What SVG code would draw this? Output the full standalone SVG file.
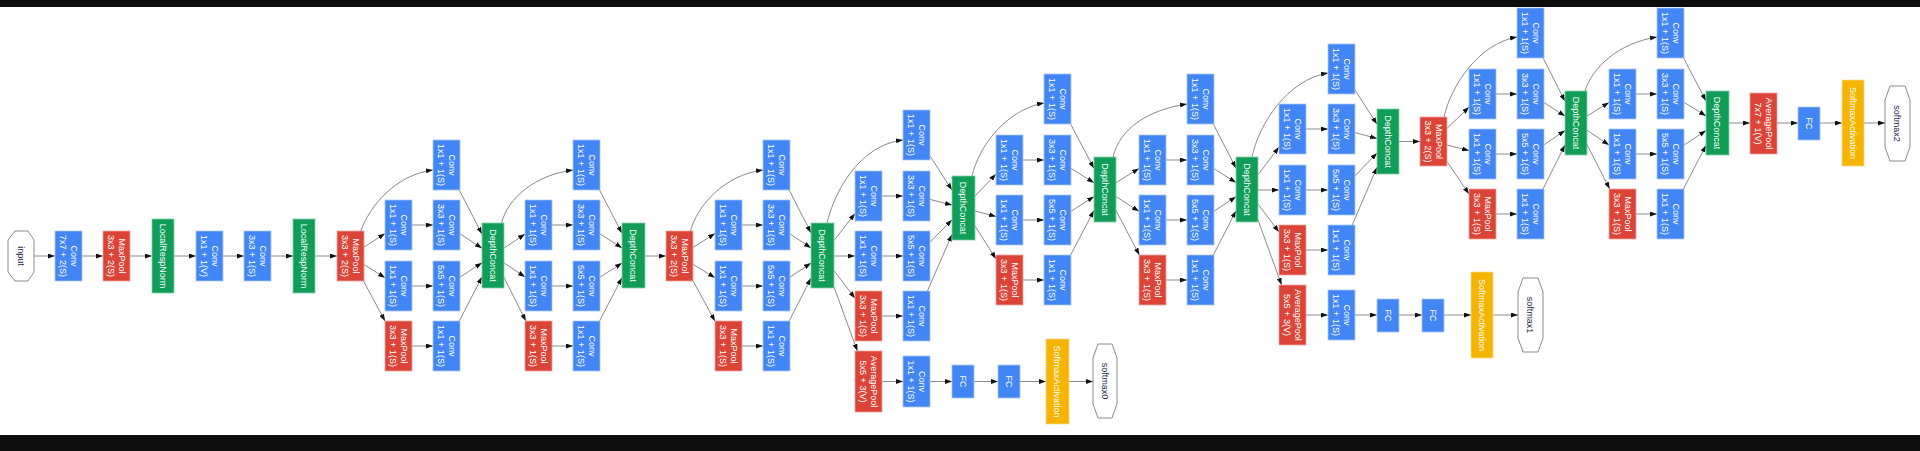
<svg xmlns="http://www.w3.org/2000/svg" width="1920" height="451" viewBox="0 0 1920 451">
<style>
.conv{fill:#4285f4;stroke:#a9c6f8;stroke-width:0.8}
.pool{fill:#db4437;stroke:#efa59e;stroke-width:0.8}
.cat{fill:#0f9d58;stroke:#86cfa9;stroke-width:0.8}
.sm{fill:#f4b400;stroke:#f9d98a;stroke-width:0.8}
.oct{fill:#fff;stroke:#8a8a8a;stroke-width:1}
text{font-family:"Liberation Sans",Arial,sans-serif;font-size:9px;text-anchor:middle}
.t{fill:#fff}
.ot{fill:#22284a}
.e{fill:none;stroke:#8a8a8a;stroke-width:1;marker-end:url(#a)}
</style>
<defs>
<marker id="a" markerUnits="userSpaceOnUse" markerWidth="7" markerHeight="5" refX="7" refY="2.5" orient="auto"><path d="M0,0 L7,2.5 L0,5 z" fill="#111"/></marker>
</defs>
<rect x="0" y="0" width="1920" height="451" fill="#fff"/>
<rect x="0" y="0" width="1920" height="7" fill="#0d0d0d"/>
<rect x="0" y="435" width="1920" height="16" fill="#0d0d0d"/>
<g id="connectors">
<path class="e" d="M34,256 L55,256"/>
<path class="e" d="M82,256 L103,256"/>
<path class="e" d="M130,256 L152,256"/>
<path class="e" d="M174,256 L196,256"/>
<path class="e" d="M223,256 L244,256"/>
<path class="e" d="M271,256 L293,256"/>
<path class="e" d="M315,256 L337,256"/>
<!-- 3a -->
<path class="e" d="M360.7,231 C370,206 395,175 433,170"/>
<path class="e" d="M363.5,247.4 L385,233.6"/>
<path class="e" d="M363.5,264.3 L385,277.7"/>
<path class="e" d="M363.5,281 L385,321"/>
<path class="e" d="M412,225 L433,225"/>
<path class="e" d="M412,286 L433,286"/>
<path class="e" d="M412,346 L433,346"/>
<path class="e" d="M459.3,190 L482,234.1"/>
<path class="e" d="M460,233.8 L482,248.3"/>
<path class="e" d="M460,277.2 L482,262.7"/>
<path class="e" d="M459.3,321 L482,276.9"/>
<!-- 3b -->
<path class="e" d="M501.5,223 C508,198 535,175 573,170"/>
<path class="e" d="M504,248.1 L525,234.1"/>
<path class="e" d="M504,262.9 L525,276.9"/>
<path class="e" d="M504,277.4 L525.9,321"/>
<path class="e" d="M552,225 L573,225"/>
<path class="e" d="M552,286 L573,286"/>
<path class="e" d="M552,346 L573,346"/>
<path class="e" d="M599.5,190 L622,233.3"/>
<path class="e" d="M600,233.8 L622,248"/>
<path class="e" d="M600,277.2 L622,263"/>
<path class="e" d="M599.5,321 L622,277.7"/>
<path class="e" d="M645,256 L666,256"/>
<!-- 4a -->
<path class="e" d="M690.5,231 C697,206 724,175 763,170"/>
<path class="e" d="M693,247.5 L715,233.5"/>
<path class="e" d="M693,264.3 L715,277.7"/>
<path class="e" d="M693,280.8 L715,321.2"/>
<path class="e" d="M742,225 L763,225"/>
<path class="e" d="M742,286 L763,286"/>
<path class="e" d="M742,346 L763,346"/>
<path class="e" d="M789.2,190 L811,232.9"/>
<path class="e" d="M790,233.9 L811,247.9"/>
<path class="e" d="M790,277.1 L811,263.1"/>
<path class="e" d="M789.2,321 L811,278.1"/>
<!-- 4b -->
<path class="e" d="M827,223 C835,190 860,145 903,140"/>
<path class="e" d="M834,240.6 L855,213.4"/>
<path class="e" d="M834,256 L855,256"/>
<path class="e" d="M834,270.6 L855,298.3"/>
<path class="e" d="M834,287 L857.4,351"/>
<path class="e" d="M882,196 L903,196"/>
<path class="e" d="M882,256 L903,256"/>
<path class="e" d="M882,316 L903,316"/>
<path class="e" d="M930,156 L952,190.1"/>
<path class="e" d="M930,199.4 L952,205.1"/>
<path class="e" d="M930,242.2 L952,219.8"/>
<path class="e" d="M927.4,291 L952,234.5"/>
<!-- aux1 -->
<path class="e" d="M882,381.5 L903,381.5"/>
<path class="e" d="M930,381.5 L952,381.5"/>
<path class="e" d="M974,381.5 L998,381.5"/>
<path class="e" d="M1020,381.5 L1046,381.5"/>
<path class="e" d="M1069,381.5 L1093,381.5"/>
<!-- 4c -->
<path class="e" d="M972,176 C979,146 1006,110 1044,103"/>
<path class="e" d="M975,196 L996,174.1"/>
<path class="e" d="M975,211 L996,216.5"/>
<path class="e" d="M975,226 L996,258.9"/>
<path class="e" d="M1023,160 L1044,160"/>
<path class="e" d="M1023,220 L1044,220"/>
<path class="e" d="M1023,280 L1044,280"/>
<path class="e" d="M1070.6,124 L1094,168.5"/>
<path class="e" d="M1071,168.4 L1094,182.7"/>
<path class="e" d="M1071,211.3 L1094,196.6"/>
<path class="e" d="M1070.6,255 L1094,210.5"/>
<!-- 4d -->
<path class="e" d="M1113,157 C1120,128 1148,110 1187,104"/>
<path class="e" d="M1116,182.7 L1139,168.4"/>
<path class="e" d="M1116,196.6 L1139,211.3"/>
<path class="e" d="M1116,210.5 L1139.4,255"/>
<path class="e" d="M1166,160 L1187,160"/>
<path class="e" d="M1166,220 L1187,220"/>
<path class="e" d="M1166,280 L1187,280"/>
<path class="e" d="M1213.3,124 L1236,168.1"/>
<path class="e" d="M1214,168.6 L1236,182.5"/>
<path class="e" d="M1214,211.2 L1236,196.7"/>
<path class="e" d="M1213.3,255 L1236,210.9"/>
<!-- 4e -->
<path class="e" d="M1252,157 C1259,124 1287,80 1328,73"/>
<path class="e" d="M1258,174.9 L1279,147"/>
<path class="e" d="M1258,190 L1279,190"/>
<path class="e" d="M1258,204.1 L1279,232"/>
<path class="e" d="M1258,219.9 L1281.6,285"/>
<path class="e" d="M1306,129 L1328,129"/>
<path class="e" d="M1306,190 L1328,190"/>
<path class="e" d="M1306,250 L1328,250"/>
<path class="e" d="M1355,90 L1377,124.3"/>
<path class="e" d="M1355,132.6 L1377,138.5"/>
<path class="e" d="M1355,175.9 L1377,153"/>
<path class="e" d="M1352.2,225 L1377,167.2"/>
<!-- aux2 -->
<path class="e" d="M1306,315 L1328,315"/>
<path class="e" d="M1355,315 L1377,315"/>
<path class="e" d="M1399,315 L1422,315"/>
<path class="e" d="M1444,315 L1471,315"/>
<path class="e" d="M1493,315 L1518,315"/>
<path class="e" d="M1399,141.5 L1420,141.5"/>
<!-- 5a -->
<path class="e" d="M1444,117 C1451,86 1478,44 1517,37"/>
<path class="e" d="M1447,128.4 L1469,107.1"/>
<path class="e" d="M1447,144.9 L1469,150.6"/>
<path class="e" d="M1447,161.5 L1469,194"/>
<path class="e" d="M1496,94 L1517,94"/>
<path class="e" d="M1496,154 L1517,154"/>
<path class="e" d="M1496,214 L1517,214"/>
<path class="e" d="M1543.1,58 L1565,101.2"/>
<path class="e" d="M1544,102.6 L1565,116"/>
<path class="e" d="M1544,144.8 L1565,130.5"/>
<path class="e" d="M1543,189 L1565,145"/>
<!-- 5b -->
<path class="e" d="M1585,91 C1592,68 1618,43 1657,37"/>
<path class="e" d="M1587,116.1 L1609,102.4"/>
<path class="e" d="M1587,130.3 L1609,145"/>
<path class="e" d="M1587,144.5 L1609.7,189"/>
<path class="e" d="M1636,94 L1657,94"/>
<path class="e" d="M1636,154 L1657,154"/>
<path class="e" d="M1636,214 L1657,214"/>
<path class="e" d="M1683.6,58 L1706,101"/>
<path class="e" d="M1684,102.3 L1706,115.9"/>
<path class="e" d="M1684,145.1 L1706,130.6"/>
<path class="e" d="M1683.4,189 L1706,145.3"/>
<path class="e" d="M1729,123 L1750,123"/>
<path class="e" d="M1777,123 L1798,123"/>
<path class="e" d="M1820,123 L1842,123"/>
<path class="e" d="M1864,123 L1885,123"/>
</g>
<g id="input"><polygon class="oct" points="15,231 28,231 34,240 34,272 28,281 15,281 8,272 8,240"/><text class="ot" transform="translate(21,256) rotate(90)" y="3.2">input</text></g>
<g id="conv1"><rect class="conv" x="55" y="231" width="27" height="50"/><text class="t" transform="translate(68.5,256) rotate(90)"><tspan x="0" y="-2.5">Conv</tspan><tspan x="0" y="9">7x7 + 2(S)</tspan></text></g>
<g id="pool1"><rect class="pool" x="103" y="231" width="27" height="50"/><text class="t" transform="translate(116.5,256) rotate(90)"><tspan x="0" y="-2.5">MaxPool</tspan><tspan x="0" y="9">3x3 + 2(S)</tspan></text></g>
<g id="lrn1"><rect class="cat" x="152" y="219" width="22" height="74"/><text class="t" transform="translate(163,256) rotate(90)" y="3.2">LocalRespNorm</text></g>
<g id="conv2"><rect class="conv" x="196" y="231" width="27" height="50"/><text class="t" transform="translate(209.5,256) rotate(90)"><tspan x="0" y="-2.5">Conv</tspan><tspan x="0" y="9">1x1 + 1(V)</tspan></text></g>
<g id="conv3"><rect class="conv" x="244" y="231" width="27" height="50"/><text class="t" transform="translate(257.5,256) rotate(90)"><tspan x="0" y="-2.5">Conv</tspan><tspan x="0" y="9">3x3 + 1(S)</tspan></text></g>
<g id="lrn2"><rect class="cat" x="293" y="219" width="22" height="74"/><text class="t" transform="translate(304,256) rotate(90)" y="3.2">LocalRespNorm</text></g>
<g id="pool2"><rect class="pool" x="337" y="231" width="27" height="50"/><text class="t" transform="translate(350.5,256) rotate(90)"><tspan x="0" y="-2.5">MaxPool</tspan><tspan x="0" y="9">3x3 + 2(S)</tspan></text></g>

<g id="i3a_1x1"><rect class="conv" x="433" y="140" width="27" height="50"/><text class="t" transform="translate(446.5,165) rotate(90)"><tspan x="0" y="-2.5">Conv</tspan><tspan x="0" y="9">1x1 + 1(S)</tspan></text></g>
<g id="i3a_3r"><rect class="conv" x="385" y="200" width="27" height="50"/><text class="t" transform="translate(398.5,225) rotate(90)"><tspan x="0" y="-2.5">Conv</tspan><tspan x="0" y="9">1x1 + 1(S)</tspan></text></g>
<g id="i3a_3"><rect class="conv" x="433" y="200" width="27" height="50"/><text class="t" transform="translate(446.5,225) rotate(90)"><tspan x="0" y="-2.5">Conv</tspan><tspan x="0" y="9">3x3 + 1(S)</tspan></text></g>
<g id="i3a_5r"><rect class="conv" x="385" y="261" width="27" height="50"/><text class="t" transform="translate(398.5,286) rotate(90)"><tspan x="0" y="-2.5">Conv</tspan><tspan x="0" y="9">1x1 + 1(S)</tspan></text></g>
<g id="i3a_5"><rect class="conv" x="433" y="261" width="27" height="50"/><text class="t" transform="translate(446.5,286) rotate(90)"><tspan x="0" y="-2.5">Conv</tspan><tspan x="0" y="9">5x5 + 1(S)</tspan></text></g>
<g id="i3a_pool"><rect class="pool" x="385" y="321" width="27" height="50"/><text class="t" transform="translate(398.5,346) rotate(90)"><tspan x="0" y="-2.5">MaxPool</tspan><tspan x="0" y="9">3x3 + 1(S)</tspan></text></g>
<g id="i3a_pp"><rect class="conv" x="433" y="321" width="27" height="50"/><text class="t" transform="translate(446.5,346) rotate(90)"><tspan x="0" y="-2.5">Conv</tspan><tspan x="0" y="9">1x1 + 1(S)</tspan></text></g>
<g id="i3a_cat"><rect class="cat" x="482" y="223" width="22" height="65"/><text class="t" transform="translate(493,255.5) rotate(90)" y="3.2">DepthConcat</text></g>

<g id="i3b_1x1"><rect class="conv" x="573" y="140" width="27" height="50"/><text class="t" transform="translate(586.5,165) rotate(90)"><tspan x="0" y="-2.5">Conv</tspan><tspan x="0" y="9">1x1 + 1(S)</tspan></text></g>
<g id="i3b_3r"><rect class="conv" x="525" y="200" width="27" height="50"/><text class="t" transform="translate(538.5,225) rotate(90)"><tspan x="0" y="-2.5">Conv</tspan><tspan x="0" y="9">1x1 + 1(S)</tspan></text></g>
<g id="i3b_3"><rect class="conv" x="573" y="200" width="27" height="50"/><text class="t" transform="translate(586.5,225) rotate(90)"><tspan x="0" y="-2.5">Conv</tspan><tspan x="0" y="9">3x3 + 1(S)</tspan></text></g>
<g id="i3b_5r"><rect class="conv" x="525" y="261" width="27" height="50"/><text class="t" transform="translate(538.5,286) rotate(90)"><tspan x="0" y="-2.5">Conv</tspan><tspan x="0" y="9">1x1 + 1(S)</tspan></text></g>
<g id="i3b_5"><rect class="conv" x="573" y="261" width="27" height="50"/><text class="t" transform="translate(586.5,286) rotate(90)"><tspan x="0" y="-2.5">Conv</tspan><tspan x="0" y="9">5x5 + 1(S)</tspan></text></g>
<g id="i3b_pool"><rect class="pool" x="525" y="321" width="27" height="50"/><text class="t" transform="translate(538.5,346) rotate(90)"><tspan x="0" y="-2.5">MaxPool</tspan><tspan x="0" y="9">3x3 + 1(S)</tspan></text></g>
<g id="i3b_pp"><rect class="conv" x="573" y="321" width="27" height="50"/><text class="t" transform="translate(586.5,346) rotate(90)"><tspan x="0" y="-2.5">Conv</tspan><tspan x="0" y="9">1x1 + 1(S)</tspan></text></g>
<g id="i3b_cat"><rect class="cat" x="622" y="223" width="23" height="65"/><text class="t" transform="translate(633.5,255.5) rotate(90)" y="3.2">DepthConcat</text></g>
<g id="pool3"><rect class="pool" x="666" y="231" width="27" height="50"/><text class="t" transform="translate(679.5,256) rotate(90)"><tspan x="0" y="-2.5">MaxPool</tspan><tspan x="0" y="9">3x3 + 2(S)</tspan></text></g>

<g id="i4a_1x1"><rect class="conv" x="763" y="140" width="27" height="50"/><text class="t" transform="translate(776.5,165) rotate(90)"><tspan x="0" y="-2.5">Conv</tspan><tspan x="0" y="9">1x1 + 1(S)</tspan></text></g>
<g id="i4a_3r"><rect class="conv" x="715" y="200" width="27" height="50"/><text class="t" transform="translate(728.5,225) rotate(90)"><tspan x="0" y="-2.5">Conv</tspan><tspan x="0" y="9">1x1 + 1(S)</tspan></text></g>
<g id="i4a_3"><rect class="conv" x="763" y="200" width="27" height="50"/><text class="t" transform="translate(776.5,225) rotate(90)"><tspan x="0" y="-2.5">Conv</tspan><tspan x="0" y="9">3x3 + 1(S)</tspan></text></g>
<g id="i4a_5r"><rect class="conv" x="715" y="261" width="27" height="50"/><text class="t" transform="translate(728.5,286) rotate(90)"><tspan x="0" y="-2.5">Conv</tspan><tspan x="0" y="9">1x1 + 1(S)</tspan></text></g>
<g id="i4a_5"><rect class="conv" x="763" y="261" width="27" height="50"/><text class="t" transform="translate(776.5,286) rotate(90)"><tspan x="0" y="-2.5">Conv</tspan><tspan x="0" y="9">5x5 + 1(S)</tspan></text></g>
<g id="i4a_pool"><rect class="pool" x="715" y="321" width="27" height="50"/><text class="t" transform="translate(728.5,346) rotate(90)"><tspan x="0" y="-2.5">MaxPool</tspan><tspan x="0" y="9">3x3 + 1(S)</tspan></text></g>
<g id="i4a_pp"><rect class="conv" x="763" y="321" width="27" height="50"/><text class="t" transform="translate(776.5,346) rotate(90)"><tspan x="0" y="-2.5">Conv</tspan><tspan x="0" y="9">1x1 + 1(S)</tspan></text></g>
<g id="i4a_cat"><rect class="cat" x="811" y="223" width="23" height="65"/><text class="t" transform="translate(822.5,255.5) rotate(90)" y="3.2">DepthConcat</text></g>

<g id="i4b_1x1"><rect class="conv" x="903" y="110" width="27" height="50"/><text class="t" transform="translate(916.5,135) rotate(90)"><tspan x="0" y="-2.5">Conv</tspan><tspan x="0" y="9">1x1 + 1(S)</tspan></text></g>
<g id="i4b_3r"><rect class="conv" x="855" y="171" width="27" height="50"/><text class="t" transform="translate(868.5,196) rotate(90)"><tspan x="0" y="-2.5">Conv</tspan><tspan x="0" y="9">1x1 + 1(S)</tspan></text></g>
<g id="i4b_3"><rect class="conv" x="903" y="171" width="27" height="50"/><text class="t" transform="translate(916.5,196) rotate(90)"><tspan x="0" y="-2.5">Conv</tspan><tspan x="0" y="9">3x3 + 1(S)</tspan></text></g>
<g id="i4b_5r"><rect class="conv" x="855" y="231" width="27" height="50"/><text class="t" transform="translate(868.5,256) rotate(90)"><tspan x="0" y="-2.5">Conv</tspan><tspan x="0" y="9">1x1 + 1(S)</tspan></text></g>
<g id="i4b_5"><rect class="conv" x="903" y="231" width="27" height="50"/><text class="t" transform="translate(916.5,256) rotate(90)"><tspan x="0" y="-2.5">Conv</tspan><tspan x="0" y="9">5x5 + 1(S)</tspan></text></g>
<g id="i4b_pool"><rect class="pool" x="855" y="291" width="27" height="50"/><text class="t" transform="translate(868.5,316) rotate(90)"><tspan x="0" y="-2.5">MaxPool</tspan><tspan x="0" y="9">3x3 + 1(S)</tspan></text></g>
<g id="i4b_pp"><rect class="conv" x="903" y="291" width="27" height="50"/><text class="t" transform="translate(916.5,316) rotate(90)"><tspan x="0" y="-2.5">Conv</tspan><tspan x="0" y="9">1x1 + 1(S)</tspan></text></g>
<g id="i4b_cat"><rect class="cat" x="952" y="176" width="23" height="64"/><text class="t" transform="translate(963.5,208) rotate(90)" y="3.2">DepthConcat</text></g>

<g id="aux1_avg"><rect class="pool" x="855" y="351" width="27" height="61"/><text class="t" transform="translate(868.5,381.5) rotate(90)"><tspan x="0" y="-2.5">AveragePool</tspan><tspan x="0" y="9">5x5 + 3(V)</tspan></text></g>
<g id="aux1_conv"><rect class="conv" x="903" y="356" width="27" height="51"/><text class="t" transform="translate(916.5,381.5) rotate(90)"><tspan x="0" y="-2.5">Conv</tspan><tspan x="0" y="9">1x1 + 1(S)</tspan></text></g>
<g id="aux1_fc1"><rect class="conv" x="952" y="365" width="22" height="33"/><text class="t" transform="translate(963,381.5) rotate(90)" y="3.2">FC</text></g>
<g id="aux1_fc2"><rect class="conv" x="998" y="365" width="22" height="33"/><text class="t" transform="translate(1009,381.5) rotate(90)" y="3.2">FC</text></g>
<g id="aux1_sm"><rect class="sm" x="1046" y="339" width="23" height="85"/><text class="t" transform="translate(1057.5,381.5) rotate(90)" y="3.2">SoftmaxActivation</text></g>
<g id="softmax0"><polygon class="oct" points="1098,344 1112,344 1117,358 1117,404 1112,418 1098,418 1093,404 1093,358"/><text class="ot" transform="translate(1105,381) rotate(90)" y="3.2">softmax0</text></g>

<g id="i4c_1x1"><rect class="conv" x="1044" y="74" width="27" height="50"/><text class="t" transform="translate(1057.5,99) rotate(90)"><tspan x="0" y="-2.5">Conv</tspan><tspan x="0" y="9">1x1 + 1(S)</tspan></text></g>
<g id="i4c_3r"><rect class="conv" x="996" y="135" width="27" height="50"/><text class="t" transform="translate(1009.5,160) rotate(90)"><tspan x="0" y="-2.5">Conv</tspan><tspan x="0" y="9">1x1 + 1(S)</tspan></text></g>
<g id="i4c_3"><rect class="conv" x="1044" y="135" width="27" height="50"/><text class="t" transform="translate(1057.5,160) rotate(90)"><tspan x="0" y="-2.5">Conv</tspan><tspan x="0" y="9">3x3 + 1(S)</tspan></text></g>
<g id="i4c_5r"><rect class="conv" x="996" y="195" width="27" height="50"/><text class="t" transform="translate(1009.5,220) rotate(90)"><tspan x="0" y="-2.5">Conv</tspan><tspan x="0" y="9">1x1 + 1(S)</tspan></text></g>
<g id="i4c_5"><rect class="conv" x="1044" y="195" width="27" height="50"/><text class="t" transform="translate(1057.5,220) rotate(90)"><tspan x="0" y="-2.5">Conv</tspan><tspan x="0" y="9">5x5 + 1(S)</tspan></text></g>
<g id="i4c_pool"><rect class="pool" x="996" y="255" width="27" height="50"/><text class="t" transform="translate(1009.5,280) rotate(90)"><tspan x="0" y="-2.5">MaxPool</tspan><tspan x="0" y="9">3x3 + 1(S)</tspan></text></g>
<g id="i4c_pp"><rect class="conv" x="1044" y="255" width="27" height="50"/><text class="t" transform="translate(1057.5,280) rotate(90)"><tspan x="0" y="-2.5">Conv</tspan><tspan x="0" y="9">1x1 + 1(S)</tspan></text></g>
<g id="i4c_cat"><rect class="cat" x="1094" y="157" width="22" height="65"/><text class="t" transform="translate(1105,189.5) rotate(90)" y="3.2">DepthConcat</text></g>

<g id="i4d_1x1"><rect class="conv" x="1187" y="74" width="27" height="50"/><text class="t" transform="translate(1200.5,99) rotate(90)"><tspan x="0" y="-2.5">Conv</tspan><tspan x="0" y="9">1x1 + 1(S)</tspan></text></g>
<g id="i4d_3r"><rect class="conv" x="1139" y="135" width="27" height="50"/><text class="t" transform="translate(1152.5,160) rotate(90)"><tspan x="0" y="-2.5">Conv</tspan><tspan x="0" y="9">1x1 + 1(S)</tspan></text></g>
<g id="i4d_3"><rect class="conv" x="1187" y="135" width="27" height="50"/><text class="t" transform="translate(1200.5,160) rotate(90)"><tspan x="0" y="-2.5">Conv</tspan><tspan x="0" y="9">3x3 + 1(S)</tspan></text></g>
<g id="i4d_5r"><rect class="conv" x="1139" y="195" width="27" height="50"/><text class="t" transform="translate(1152.5,220) rotate(90)"><tspan x="0" y="-2.5">Conv</tspan><tspan x="0" y="9">1x1 + 1(S)</tspan></text></g>
<g id="i4d_5"><rect class="conv" x="1187" y="195" width="27" height="50"/><text class="t" transform="translate(1200.5,220) rotate(90)"><tspan x="0" y="-2.5">Conv</tspan><tspan x="0" y="9">5x5 + 1(S)</tspan></text></g>
<g id="i4d_pool"><rect class="pool" x="1139" y="255" width="27" height="50"/><text class="t" transform="translate(1152.5,280) rotate(90)"><tspan x="0" y="-2.5">MaxPool</tspan><tspan x="0" y="9">3x3 + 1(S)</tspan></text></g>
<g id="i4d_pp"><rect class="conv" x="1187" y="255" width="27" height="50"/><text class="t" transform="translate(1200.5,280) rotate(90)"><tspan x="0" y="-2.5">Conv</tspan><tspan x="0" y="9">1x1 + 1(S)</tspan></text></g>
<g id="i4d_cat"><rect class="cat" x="1236" y="157" width="22" height="65"/><text class="t" transform="translate(1247,189.5) rotate(90)" y="3.2">DepthConcat</text></g>

<g id="i4e_1x1"><rect class="conv" x="1328" y="44" width="27" height="50"/><text class="t" transform="translate(1341.5,69) rotate(90)"><tspan x="0" y="-2.5">Conv</tspan><tspan x="0" y="9">1x1 + 1(S)</tspan></text></g>
<g id="i4e_3r"><rect class="conv" x="1279" y="104" width="27" height="50"/><text class="t" transform="translate(1292.5,129) rotate(90)"><tspan x="0" y="-2.5">Conv</tspan><tspan x="0" y="9">1x1 + 1(S)</tspan></text></g>
<g id="i4e_3"><rect class="conv" x="1328" y="104" width="27" height="50"/><text class="t" transform="translate(1341.5,129) rotate(90)"><tspan x="0" y="-2.5">Conv</tspan><tspan x="0" y="9">3x3 + 1(S)</tspan></text></g>
<g id="i4e_5r"><rect class="conv" x="1279" y="165" width="27" height="50"/><text class="t" transform="translate(1292.5,190) rotate(90)"><tspan x="0" y="-2.5">Conv</tspan><tspan x="0" y="9">1x1 + 1(S)</tspan></text></g>
<g id="i4e_5"><rect class="conv" x="1328" y="165" width="27" height="50"/><text class="t" transform="translate(1341.5,190) rotate(90)"><tspan x="0" y="-2.5">Conv</tspan><tspan x="0" y="9">5x5 + 1(S)</tspan></text></g>
<g id="i4e_pool"><rect class="pool" x="1279" y="225" width="27" height="50"/><text class="t" transform="translate(1292.5,250) rotate(90)"><tspan x="0" y="-2.5">MaxPool</tspan><tspan x="0" y="9">3x3 + 1(S)</tspan></text></g>
<g id="i4e_pp"><rect class="conv" x="1328" y="225" width="27" height="50"/><text class="t" transform="translate(1341.5,250) rotate(90)"><tspan x="0" y="-2.5">Conv</tspan><tspan x="0" y="9">1x1 + 1(S)</tspan></text></g>
<g id="i4e_cat"><rect class="cat" x="1377" y="109" width="22" height="65"/><text class="t" transform="translate(1388,141.5) rotate(90)" y="3.2">DepthConcat</text></g>

<g id="aux2_avg"><rect class="pool" x="1279" y="285" width="27" height="60"/><text class="t" transform="translate(1292.5,315) rotate(90)"><tspan x="0" y="-2.5">AveragePool</tspan><tspan x="0" y="9">5x5 + 3(V)</tspan></text></g>
<g id="aux2_conv"><rect class="conv" x="1328" y="290" width="27" height="50"/><text class="t" transform="translate(1341.5,315) rotate(90)"><tspan x="0" y="-2.5">Conv</tspan><tspan x="0" y="9">1x1 + 1(S)</tspan></text></g>
<g id="aux2_fc1"><rect class="conv" x="1377" y="299" width="22" height="33"/><text class="t" transform="translate(1388,315.5) rotate(90)" y="3.2">FC</text></g>
<g id="aux2_fc2"><rect class="conv" x="1422" y="299" width="22" height="33"/><text class="t" transform="translate(1433,315.5) rotate(90)" y="3.2">FC</text></g>
<g id="aux2_sm"><rect class="sm" x="1471" y="272" width="22" height="86"/><text class="t" transform="translate(1482,315) rotate(90)" y="3.2">SoftmaxActivation</text></g>
<g id="softmax1"><polygon class="oct" points="1523,278 1538,278 1543,292 1543,338 1538,352 1523,352 1518,338 1518,292"/><text class="ot" transform="translate(1530.5,315) rotate(90)" y="3.2">softmax1</text></g>

<g id="pool4"><rect class="pool" x="1420" y="117" width="27" height="49"/><text class="t" transform="translate(1433.5,141.5) rotate(90)"><tspan x="0" y="-2.5">MaxPool</tspan><tspan x="0" y="9">3x3 + 2(S)</tspan></text></g>

<g id="i5a_1x1"><rect class="conv" x="1517" y="8" width="27" height="50"/><text class="t" transform="translate(1530.5,33) rotate(90)"><tspan x="0" y="-2.5">Conv</tspan><tspan x="0" y="9">1x1 + 1(S)</tspan></text></g>
<g id="i5a_3r"><rect class="conv" x="1469" y="69" width="27" height="50"/><text class="t" transform="translate(1482.5,94) rotate(90)"><tspan x="0" y="-2.5">Conv</tspan><tspan x="0" y="9">1x1 + 1(S)</tspan></text></g>
<g id="i5a_3"><rect class="conv" x="1517" y="69" width="27" height="50"/><text class="t" transform="translate(1530.5,94) rotate(90)"><tspan x="0" y="-2.5">Conv</tspan><tspan x="0" y="9">3x3 + 1(S)</tspan></text></g>
<g id="i5a_5r"><rect class="conv" x="1469" y="129" width="27" height="50"/><text class="t" transform="translate(1482.5,154) rotate(90)"><tspan x="0" y="-2.5">Conv</tspan><tspan x="0" y="9">1x1 + 1(S)</tspan></text></g>
<g id="i5a_5"><rect class="conv" x="1517" y="129" width="27" height="50"/><text class="t" transform="translate(1530.5,154) rotate(90)"><tspan x="0" y="-2.5">Conv</tspan><tspan x="0" y="9">5x5 + 1(S)</tspan></text></g>
<g id="i5a_pool"><rect class="pool" x="1469" y="189" width="27" height="50"/><text class="t" transform="translate(1482.5,214) rotate(90)"><tspan x="0" y="-2.5">MaxPool</tspan><tspan x="0" y="9">3x3 + 1(S)</tspan></text></g>
<g id="i5a_pp"><rect class="conv" x="1517" y="189" width="27" height="50"/><text class="t" transform="translate(1530.5,214) rotate(90)"><tspan x="0" y="-2.5">Conv</tspan><tspan x="0" y="9">1x1 + 1(S)</tspan></text></g>
<g id="i5a_cat"><rect class="cat" x="1565" y="91" width="22" height="64"/><text class="t" transform="translate(1576,123) rotate(90)" y="3.2">DepthConcat</text></g>

<g id="i5b_1x1"><rect class="conv" x="1657" y="8" width="27" height="50"/><text class="t" transform="translate(1670.5,33) rotate(90)"><tspan x="0" y="-2.5">Conv</tspan><tspan x="0" y="9">1x1 + 1(S)</tspan></text></g>
<g id="i5b_3r"><rect class="conv" x="1609" y="69" width="27" height="50"/><text class="t" transform="translate(1622.5,94) rotate(90)"><tspan x="0" y="-2.5">Conv</tspan><tspan x="0" y="9">1x1 + 1(S)</tspan></text></g>
<g id="i5b_3"><rect class="conv" x="1657" y="69" width="27" height="50"/><text class="t" transform="translate(1670.5,94) rotate(90)"><tspan x="0" y="-2.5">Conv</tspan><tspan x="0" y="9">3x3 + 1(S)</tspan></text></g>
<g id="i5b_5r"><rect class="conv" x="1609" y="129" width="27" height="50"/><text class="t" transform="translate(1622.5,154) rotate(90)"><tspan x="0" y="-2.5">Conv</tspan><tspan x="0" y="9">1x1 + 1(S)</tspan></text></g>
<g id="i5b_5"><rect class="conv" x="1657" y="129" width="27" height="50"/><text class="t" transform="translate(1670.5,154) rotate(90)"><tspan x="0" y="-2.5">Conv</tspan><tspan x="0" y="9">5x5 + 1(S)</tspan></text></g>
<g id="i5b_pool"><rect class="pool" x="1609" y="189" width="27" height="50"/><text class="t" transform="translate(1622.5,214) rotate(90)"><tspan x="0" y="-2.5">MaxPool</tspan><tspan x="0" y="9">3x3 + 1(S)</tspan></text></g>
<g id="i5b_pp"><rect class="conv" x="1657" y="189" width="27" height="50"/><text class="t" transform="translate(1670.5,214) rotate(90)"><tspan x="0" y="-2.5">Conv</tspan><tspan x="0" y="9">1x1 + 1(S)</tspan></text></g>
<g id="i5b_cat"><rect class="cat" x="1706" y="91" width="23" height="64"/><text class="t" transform="translate(1717.5,123) rotate(90)" y="3.2">DepthConcat</text></g>

<g id="avgpool"><rect class="pool" x="1750" y="93" width="27" height="61"/><text class="t" transform="translate(1763.5,123.5) rotate(90)"><tspan x="0" y="-2.5">AveragePool</tspan><tspan x="0" y="9">7x7 + 1(V)</tspan></text></g>
<g id="fc"><rect class="conv" x="1798" y="107" width="22" height="33"/><text class="t" transform="translate(1809,123.5) rotate(90)" y="3.2">FC</text></g>
<g id="sm2"><rect class="sm" x="1842" y="80" width="22" height="86"/><text class="t" transform="translate(1853,123) rotate(90)" y="3.2">SoftmaxActivation</text></g>
<g id="softmax2"><polygon class="oct" points="1890,86 1905,86 1910,100 1910,147 1905,161 1890,161 1885,147 1885,100"/><text class="ot" transform="translate(1897.5,123.5) rotate(90)" y="3.2">softmax2</text></g>
</svg>
